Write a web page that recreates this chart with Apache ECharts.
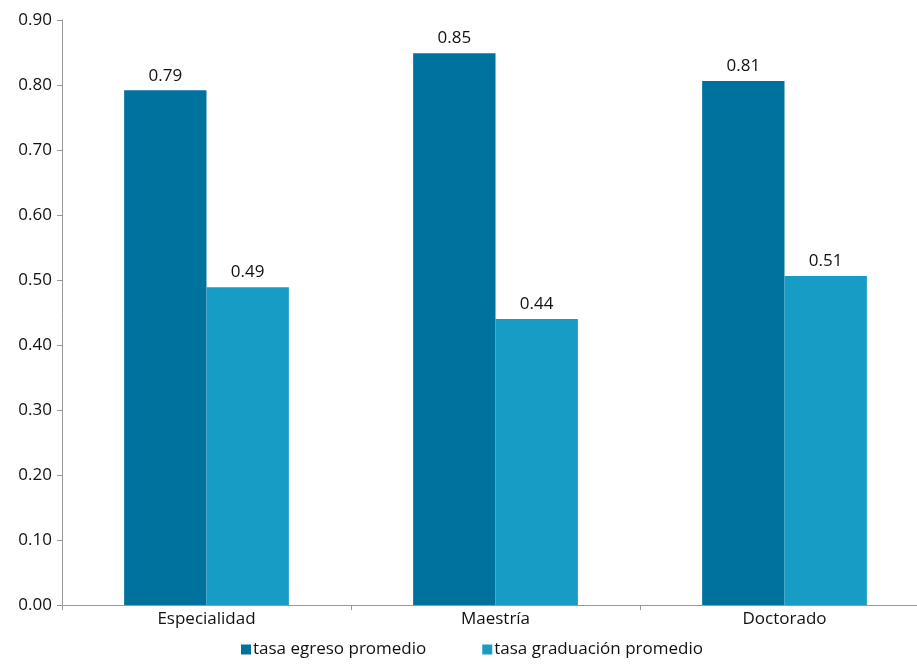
<!DOCTYPE html>
<html><head><meta charset="utf-8">
<script src="https://cdn.jsdelivr.net/npm/echarts@6/dist/echarts.min.js"></script>
<style>html,body{margin:0;padding:0;background:#fff}#c{width:917px;height:665px}</style>
</head><body><div id="c"></div>
<script>
const categories = ["Especialidad", "Maestría", "Doctorado"];
const seriesNames = ["tasa egreso promedio", "tasa graduación promedio"];
const egreso = [0.792, 0.849, 0.806];
const graduacion = [0.489, 0.44, 0.506];
const colors = ["#00729E", "#179CC6"];
const font = "'Open Sans', 'Liberation Sans', Arial, sans-serif";

const chart = echarts.init(document.getElementById('c'), null, {renderer: 'canvas'});
const lbl = {show: true, position: 'top', distance: 6, color: '#111', fontSize: 17, fontFamily: font,
  formatter: p => p.value.toFixed(2)};
chart.setOption({
  animation: false,
  grid: {left: 62, top: 20, height: 585, width: 867, containLabel: false, outerBoundsMode: 'none'},
  legend: {
    bottom: 2, left: 236, itemWidth: 10, itemHeight: 10, itemGap: 56,
    icon: 'rect', textStyle: {fontSize: 17, fontFamily: font, color: '#111', padding: [0,0,0,-3]},
    data: seriesNames
  },
  xAxis: {
    type: 'category', data: categories,
    axisLine: {lineStyle: {color: '#999', width: 1}},
    axisTick: {show: true, length: 5, lineStyle: {color: '#999'}},
    axisLabel: {fontSize: 17, fontFamily: font, color: '#111', margin: 6}
  },
  yAxis: {
    type: 'value', min: 0, max: 0.9, interval: 0.1,
    axisLine: {show: true, lineStyle: {color: '#999', width: 1}},
    axisTick: {show: true, length: 5, lineStyle: {color: '#999'}},
    splitLine: {show: false},
    axisLabel: {fontSize: 17, fontFamily: font, color: '#111', margin: 10, formatter: v => v.toFixed(2)}
  },
  series: [
    {name: seriesNames[0], type: 'bar', data: egreso, barGap: '0%', barCategoryGap: '43%',
     itemStyle: {color: colors[0]}, label: lbl},
    {name: seriesNames[1], type: 'bar', data: graduacion,
     itemStyle: {color: colors[1]}, label: lbl}
  ]
});
</script></body></html>
